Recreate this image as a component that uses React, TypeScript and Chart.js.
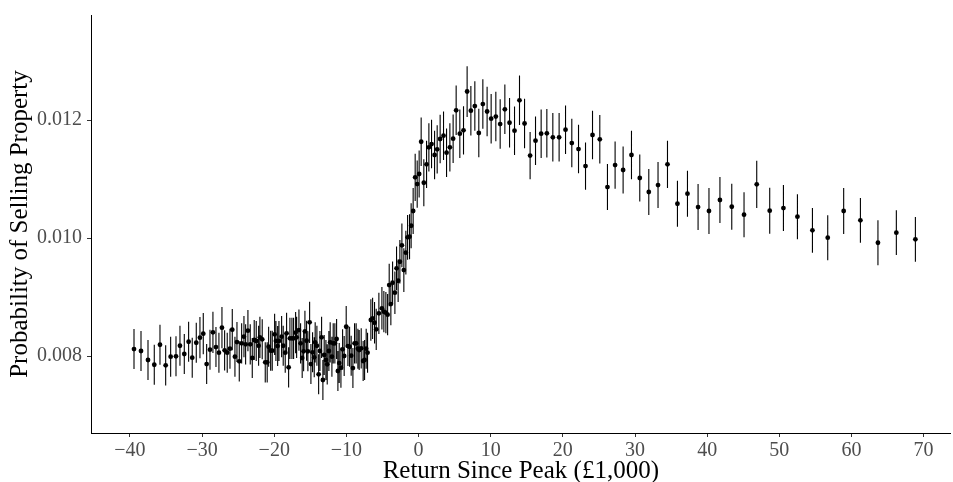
import React, { useEffect, useRef } from "react";
import { Chart, registerables } from "chart.js";

Chart.register(...registerables);

const xValues = [
  -39.44, -38.47, -37.5, -36.63, -35.84, -35.05, -34.36, -33.62, -33.07, -32.47,
  -31.87, -31.37, -30.81, -30.3, -29.84, -29.37, -28.91, -28.5, -28.08, -27.67,
  -27.25, -26.88, -26.52, -26.14, -25.82, -25.45, -25.17, -24.85, -24.52, -24.2,
  -23.97, -23.65, -23.33, -23.05, -22.78, -22.5, -22.17, -21.99, -21.67, -21.25,
  -20.98, -20.78, -20.5, -20.28, -19.95, -19.77, -19.53, -19.35, -18.98, -18.76,
  -18.48, -18.29, -18.01, -17.83, -17.55, -17.32, -17.04, -16.9, -16.58, -16.35,
  -16.13, -15.93, -15.75, -15.52, -15.34, -15.1, -14.92, -14.69, -14.46, -14.33,
  -14.09, -13.85, -13.67, -13.44, -13.26, -13.08, -12.84, -12.66, -12.43, -12.25,
  -12.01, -11.83, -11.6, -11.36, -11.18, -11.0, -10.76, -10.53, -10.31, -10.03,
  -9.79, -9.56, -9.34, -9.1, -8.87, -8.65, -8.41, -8.23, -7.95, -7.68,
  -7.48, -7.26, -7.07, -6.61, -6.37, -6.1, -5.87, -5.5, -5.08, -4.81,
  -4.53, -4.29, -4.07, -3.84, -3.6, -3.28, -3.05, -2.83, -2.59, -2.31,
  -2.04, -1.76, -1.52, -1.25, -1.03, -0.75, -0.47, -0.19, 0.08, 0.36,
  0.73, 1.11, 1.43, 1.8, 2.22, 2.58, 2.99, 3.46, 3.88, 4.34,
  4.79, 5.21, 5.72, 6.23, 6.73, 7.25, 7.8, 8.35, 8.91, 9.5,
  10.06, 10.71, 11.31, 11.96, 12.61, 13.3, 13.99, 14.69, 15.46, 16.21,
  16.99, 17.78, 18.61, 19.48, 20.37, 21.24, 22.17, 23.14, 24.11, 25.12,
  26.18, 27.24, 28.35, 29.51, 30.66, 31.91, 33.19, 34.5, 35.88, 37.27,
  38.74, 40.25, 41.77, 43.41, 45.11, 46.87, 48.67, 50.57, 52.51, 54.59,
  56.71, 58.92, 61.24, 63.67, 66.22, 68.86,
];

const yValues = [
  0.008118, 0.008085, 0.007932, 0.007852, 0.008191, 0.007842, 0.007988, 0.007995, 0.008174, 0.008034,
  0.008242, 0.007971, 0.008225, 0.00831, 0.008378, 0.007864, 0.008107, 0.008402, 0.008152, 0.008056,
  0.00848, 0.008096, 0.008056, 0.008124, 0.008446, 0.007988, 0.008237, 0.00791, 0.008215, 0.008327,
  0.008198, 0.008429, 0.008198, 0.007966, 0.008271, 0.008254, 0.008174, 0.008317, 0.008283, 0.007893,
  0.007893, 0.008157, 0.00809, 0.00809, 0.008368, 0.008254, 0.008169, 0.008254, 0.008327, 0.008174,
  0.008056, 0.008385, 0.007808, 0.0083, 0.0083, 0.0083, 0.008395, 0.008317, 0.00844, 0.008215,
  0.007966, 0.00808, 0.008418, 0.008259, 0.00808, 0.008571, 0.007864, 0.008063, 0.007978, 0.008232,
  0.008174, 0.00769, 0.008085, 0.008317, 0.007593, 0.008017, 0.007932, 0.007859, 0.008085, 0.008232,
  0.007988, 0.008215, 0.008215, 0.008288, 0.007746, 0.007881, 0.007801, 0.008113, 0.008, 0.008496,
  0.008169, 0.008157, 0.008005, 0.007796, 0.008215, 0.008215, 0.008124, 0.008101, 0.00813, 0.007915,
  0.007932, 0.008124, 0.008056, 0.00861, 0.008639, 0.008564, 0.008452, 0.008724, 0.008808, 0.008751,
  0.008734, 0.0087, 0.009203, 0.008881, 0.009242, 0.009073, 0.009486, 0.009276, 0.009598, 0.009876,
  0.009457, 0.009751, 0.010012, 0.010022, 0.010208, 0.010458, 0.011029, 0.010915, 0.011085, 0.011632,
  0.010937, 0.011249, 0.011537, 0.011593, 0.011407, 0.011503, 0.011678, 0.011734, 0.011446, 0.011537,
  0.011683, 0.012164, 0.011768, 0.011825, 0.012483, 0.012158, 0.012237, 0.01178, 0.012271, 0.012144,
  0.012022, 0.012059, 0.011932, 0.012181, 0.011954, 0.011819, 0.012334, 0.011941, 0.011398, 0.011649,
  0.011768, 0.011775, 0.011707, 0.011707, 0.011836, 0.01161, 0.011508, 0.01122, 0.011746, 0.011673,
  0.010864, 0.011237, 0.011153, 0.011407, 0.011017, 0.01078, 0.010898, 0.011249, 0.010581, 0.010751,
  0.010525, 0.010458, 0.010644, 0.01053, 0.010395, 0.01091, 0.010463, 0.010508, 0.010361, 0.01013,
  0.010005, 0.010458, 0.0103, 0.00992, 0.01009, 0.009978,
];

const errValues = [
  0.00034, 0.00034, 0.00034, 0.00034, 0.00034, 0.00034, 0.00034, 0.00034, 0.00034, 0.00034,
  0.00034, 0.00034, 0.00034, 0.00035, 0.00035, 0.00034, 0.00034, 0.00035, 0.00034, 0.00034,
  0.00035, 0.00034, 0.00034, 0.00034, 0.00035, 0.00034, 0.00034, 0.00034, 0.00034, 0.00035,
  0.00034, 0.00035, 0.00034, 0.00034, 0.00034, 0.00034, 0.00034, 0.00035, 0.00034, 0.00034,
  0.00034, 0.00034, 0.00034, 0.00034, 0.00035, 0.00034, 0.00034, 0.00034, 0.00035, 0.00034,
  0.00034, 0.00035, 0.00034, 0.00035, 0.00035, 0.00035, 0.00035, 0.00035, 0.00035, 0.00034,
  0.00034, 0.00034, 0.00035, 0.00034, 0.00034, 0.00035, 0.00034, 0.00034, 0.00034, 0.00034,
  0.00034, 0.00034, 0.00034, 0.00035, 0.00034, 0.00034, 0.00034, 0.00034, 0.00034, 0.00034,
  0.00034, 0.00034, 0.00034, 0.00034, 0.00034, 0.00034, 0.00034, 0.00034, 0.00034, 0.00035,
  0.00034, 0.00034, 0.00034, 0.00034, 0.00034, 0.00034, 0.00034, 0.00034, 0.00034, 0.00034,
  0.00034, 0.00034, 0.00034, 0.00035, 0.00035, 0.00035, 0.00035, 0.00035, 0.00036, 0.00035,
  0.00035, 0.00035, 0.00036, 0.00036, 0.00036, 0.00036, 0.00037, 0.00036, 0.00037, 0.00037,
  0.00037, 0.00037, 0.00038, 0.00038, 0.00038, 0.00039, 0.0004, 0.0004, 0.0004, 0.00041,
  0.0004, 0.0004, 0.00041, 0.00041, 0.00041, 0.00041, 0.00041, 0.00041, 0.00041, 0.00041,
  0.00041, 0.00042, 0.00041, 0.00041, 0.00043, 0.00042, 0.00042, 0.00041, 0.00042, 0.00042,
  0.00042, 0.00042, 0.00042, 0.00042, 0.00042, 0.00041, 0.00042, 0.00042, 0.0004, 0.00041,
  0.00041, 0.00041, 0.00041, 0.00041, 0.00041, 0.00041, 0.00041, 0.0004, 0.00041, 0.00041,
  0.00039, 0.0004, 0.0004, 0.00041, 0.0004, 0.00039, 0.00039, 0.0004, 0.00039, 0.00039,
  0.00039, 0.00039, 0.00039, 0.00039, 0.00038, 0.0004, 0.00039, 0.00039, 0.00038, 0.00038,
  0.00038, 0.00039, 0.00038, 0.00038, 0.00038, 0.00038,
];

const xTicks = [-40, -30, -20, -10, 0, 10, 20, 30, 40, 50, 60, 70];
const yTicks = [0.008, 0.01, 0.012];

const xTitle = "Return Since Peak (£1,000)";
const yTitle = "Probability of Selling Property";

const FONT = '"Liberation Serif", "Times New Roman", serif';

const errorBarPlugin = {
  id: "errorBars",
  beforeDatasetsDraw(chart: any) {
    const { ctx } = chart;
    const xs = chart.scales.x;
    const ys = chart.scales.y;
    ctx.save();
    ctx.strokeStyle = "#000000";
    ctx.lineWidth = 1.1;
    ctx.beginPath();
    for (let i = 0; i < xValues.length; i++) {
      const px = xs.getPixelForValue(xValues[i]);
      ctx.moveTo(px, ys.getPixelForValue(yValues[i] - errValues[i]));
      ctx.lineTo(px, ys.getPixelForValue(yValues[i] + errValues[i]));
    }
    ctx.stroke();
    ctx.restore();
  },
};

export default function App() {
  const ref = useRef<HTMLCanvasElement | null>(null);

  useEffect(() => {
    if (!ref.current) return;
    const points = xValues.map((x, i) => ({ x, y: yValues[i] }));
    const chart = new Chart(ref.current, {
      type: "scatter",
      data: {
        datasets: [
          {
            data: points,
            pointRadius: 2.4,
            pointBackgroundColor: "#000000",
            pointBorderWidth: 0,
            pointHoverRadius: 2.4,
          },
        ],
      },
      options: {
        responsive: false,
        animation: false,
        events: [],
        layout: { padding: { top: 15, right: 2, left: 0, bottom: 0 } },
        plugins: {
          legend: { display: false },
          tooltip: { enabled: false },
        },
        scales: {
          x: {
            type: "linear",
            min: -45.4,
            max: 73.74,
            afterBuildTicks: (s: any) => {
              s.ticks = xTicks.map((v) => ({ value: v }));
            },
            afterFit: (s: any) => {
              s.height = 49;
              s.paddingLeft = 0;
              s.paddingRight = 0;
            },
            grid: {
              drawOnChartArea: false,
              drawTicks: true,
              tickLength: 4,
              color: "#333333",
              lineWidth: 1,
            },
            border: { display: true, color: "#000000", width: 1 },
            ticks: {
              color: "#4d4d4d",
              font: { family: FONT, size: 20 },
              padding: 2,
              maxRotation: 0,
              autoSkip: false,
              callback: (v: any) => (v < 0 ? "\u2212" + Math.abs(v) : String(v)),
            },
            title: {
              display: true,
              text: xTitle,
              color: "#000000",
              font: { family: FONT, size: 25, lineHeight: 0.88 },
              padding: { top: 0, bottom: 0 },
            },
          },
          y: {
            type: "linear",
            min: 0.006695,
            max: 0.01378,
            afterBuildTicks: (s: any) => {
              s.ticks = yTicks.map((v) => ({ value: v }));
            },
            afterFit: (s: any) => {
              s.width = 91;
              s.paddingTop = 0;
              s.paddingBottom = 0;
            },
            grid: {
              drawOnChartArea: false,
              drawTicks: true,
              tickLength: 4,
              color: "#333333",
              lineWidth: 1,
            },
            border: { display: true, color: "#000000", width: 1 },
            ticks: {
              color: "#4d4d4d",
              font: { family: FONT, size: 20 },
              padding: 5,
              autoSkip: false,
              callback: (v: any) => Number(v).toFixed(3),
            },
            title: {
              display: true,
              text: yTitle,
              color: "#000000",
              font: { family: FONT, size: 25, lineHeight: 0.88 },
              padding: { top: 9, bottom: 0 },
            },
          },
        },
      },
      plugins: [errorBarPlugin],
    });
    return () => chart.destroy();
  }, []);

  return (
    <div style={{ position: "absolute", left: 0, top: 0, width: 953, height: 482, background: "#ffffff" }}>
      <canvas ref={ref} width={953} height={482} style={{ display: "block" }} />
    </div>
  );
}
